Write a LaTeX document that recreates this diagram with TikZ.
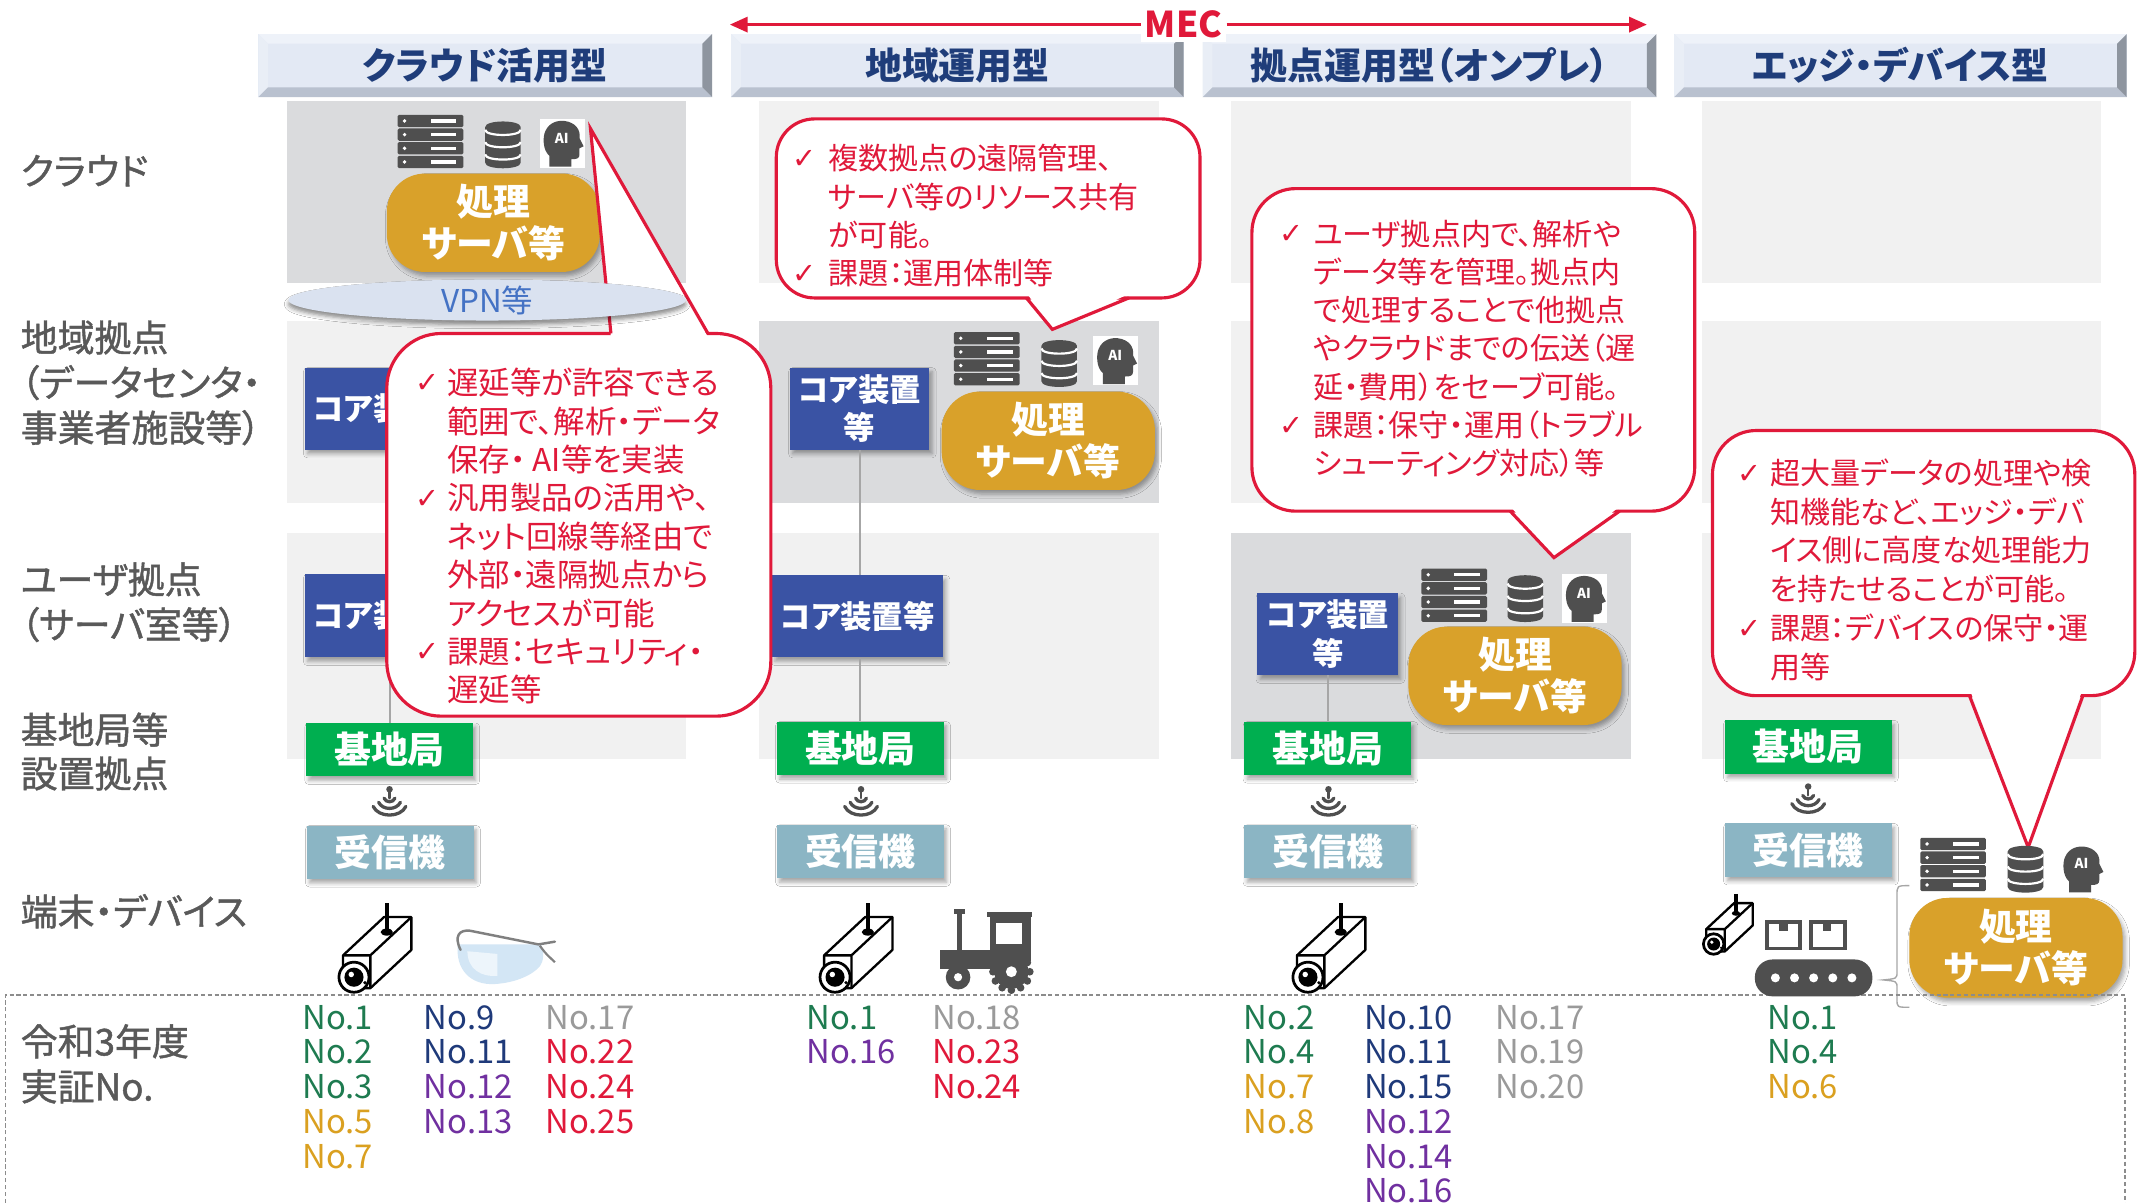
\documentclass[tikz,border=0pt]{standalone}
\usepackage{fontspec}
\setmainfont{Noto Sans CJK JP}[RawFeature=+palt]
\newfontfamily\lblf{Noto Sans CJK JP}[RawFeature=+palt, FakeBold=1.2]
\newfontfamily\symf{DejaVu Sans}
\usetikzlibrary{arrows.meta,shapes.geometric,shadows.blur}

\definecolor{hdrface}{HTML}{E3E9F4}
\definecolor{hdrtop}{HTML}{EEF2F9}
\definecolor{hdrleft}{HTML}{E9EEF6}
\definecolor{hdrbot}{HTML}{B9C1CF}
\definecolor{hdrright}{HTML}{8E959F}
\definecolor{hdrtxt}{HTML}{1F3D7A}
\definecolor{bgdark}{HTML}{DADBDD}
\definecolor{bglight}{HTML}{F1F1F1}
\definecolor{coreblue}{HTML}{3A53A4}
\definecolor{bsgreen}{HTML}{00AF50}
\definecolor{rcvblue}{HTML}{8BB5C4}
\definecolor{gold}{HTML}{D9A12A}
\definecolor{cred}{HTML}{E0193A}
\definecolor{lblgray}{HTML}{595959}
\definecolor{icong}{HTML}{4F4F4F}
\definecolor{conngray}{HTML}{A6A6A6}
\definecolor{ngreen}{HTML}{1E7B50}
\definecolor{nblue}{HTML}{1F3A7A}
\definecolor{npurple}{HTML}{7030A0}
\definecolor{ngold}{HTML}{DAA020}
\definecolor{ngray}{HTML}{9A9A9A}
\definecolor{vpnfill}{HTML}{DAE2F0}
\definecolor{vpntxt}{HTML}{4472C4}
\definecolor{dashgray}{HTML}{8C8C8C}
\definecolor{lensblue}{HTML}{D3E6F5}

% bevelled column header
\newcommand\hdrbox[4]{%
  \fill[hdrface] (#1,25) rectangle (#2,71);
  \fill[hdrtop] (#1,25) -- (#2,25) -- (#2-7,32) -- (#1+7,32) -- cycle;
  \fill[hdrleft] (#1,25) -- (#1+7,32) -- (#1+7,64) -- (#1,71) -- cycle;
  \fill[hdrbot] (#1,71) -- (#1+7,64) -- (#2-7,64) -- (#2,71) -- cycle;
  \fill[hdrright] (#2,25) -- (#2,71) -- (#2-7,64) -- (#2-7,32) -- cycle;
  \node[hdrtext] (#3) at ({(#1+#2)/2},48) {#4};}

% rack server icon
\newcommand\srvicon[2]{%
  \begin{scope}[shift={(#1,#2)}]
    \foreach \k in {0,1,2,3}{%
      \fill[icong, rounded corners=1pt] (0,\k*10) rectangle (48,\k*10+9);
      \fill[white] (5,\k*10+4.5) circle [radius=1.4pt];
      \fill[white] (24,\k*10+3.3) rectangle (43,\k*10+5.7);}
  \end{scope}}

% database icon
\newcommand\dbicon[2]{%
  \begin{scope}[shift={(#1,#2)}]
    \fill[icong] (0,4) -- (0,30) .. controls (0,35.5) and (26,35.5) .. (26,30)
      -- (26,4) .. controls (26,-1.5) and (0,-1.5) .. (0,4) -- cycle;
    \foreach \s in {6,15,24}
      \draw[white, line width=1.6pt] (0,\s) .. controls (0,\s+5) and (26,\s+5) .. (26,\s);
  \end{scope}}

% AI head icon
\newcommand\aiicon[3]{%
  \begin{scope}[shift={(#1,#2)}]
    \fill[white] (-1,-1) rectangle (32,35);
    \fill[icong] (6,34) -- (6,26) .. controls (1,22) and (1,12) .. (3,8)
      .. controls (6,1) and (13,0) .. (17,0.5) .. controls (25,1.5) and (29,7) .. (28,13)
      -- (31,19) -- (28,20.5) -- (28,25) .. controls (28,28) and (26,28.5) .. (22,28.5)
      -- (22,34) -- cycle;
    \node[font=\bfseries\fontsize{10}{10}\selectfont, text=white, inner sep=0pt] (#3) at (15,13) {AI};
  \end{scope}}

% radio waves between base station and receiver
\newcommand\wifi[2]{%
  \begin{scope}[shift={(#1,#2)}, color=icong, line width=2.4pt, line cap=round]
    \fill (0,2.5) circle [radius=2.4pt];
    \draw[line width=1.6pt] (0,4) -- (0,9);
    \draw (-4,9) .. controls (-2.5,12.5) and (2.5,12.5) .. (4,9);
    \draw (-8,12) .. controls (-5,18) and (5,18) .. (8,12);
    \draw (-12,15) .. controls (-8,23.5) and (8,23.5) .. (12,15);
  \end{scope}}

% box camera with antenna
\newcommand\camicon[3]{%
  \begin{scope}[shift={(#1,#2)}, scale=#3, line join=round]
    \filldraw[fill=white, draw=black, line width=1.7pt] (5,38) -- (35,10) -- (55,10) -- (55,34) -- (25,62) -- (5,62) -- cycle;
    \draw[line width=1.7pt] (5,38) -- (25,38) -- (55,10) (25,38) -- (25,62);
    \draw[line width=3.2pt] (37,0) -- (37,20);
    \fill (37,21) ellipse [x radius=4.5pt, y radius=2.6pt];
    \filldraw[fill=white, draw=black, line width=2pt] (13,54) circle [radius=11pt];
    \fill (13,54) circle [radius=7pt];
    \fill[white] (11,52) circle [radius=2pt];
    \fill (21,58) circle [radius=1.3pt];
  \end{scope}}

% smart glasses
\newcommand\glasses[2]{%
  \begin{scope}[shift={(#1,#2)}]
    \fill[lensblue] (3,12) .. controls (1,30) and (12,42) .. (30,41) .. controls (46,40) and (58,34) .. (63,28)
      .. controls (66,24) and (66,18) .. (64,12) -- cycle;
    \fill[lensblue!40!white] (10,17) .. controls (10,30) and (20,36) .. (32,35) -- (32,19) -- cycle;
    \draw[gray, line width=1.8pt, line cap=round] (5,16) .. controls (0,6) and (4,1) .. (12,2) -- (62,12) -- (74,10);
    \draw[gray, line width=1.6pt] (63,13) .. controls (68,20) and (71,22) .. (74,25);
  \end{scope}}

% tractor
\newcommand\tractor[2]{%
  \begin{scope}[shift={(#1,#2)}]
    \fill[icong] (12,4) rectangle (16,30);
    \fill[icong] (10,0) rectangle (18,4);
    \fill[icong] (0,30) rectangle (50,44);
    \fill[icong] (36,4) rectangle (66,38);
    \fill[white] (41,10) rectangle (60,26);
    \fill[icong] (34,2) rectangle (67,6);
    \fill[icong] (52,46) circle [radius=12.5pt];
    \foreach \a in {0,30,...,330} \fill[icong] (52,46) ++(\a:13.5pt) circle [radius=2.8pt];
    \fill[white] (52,46) circle [radius=4pt];
    \fill[icong] (13,50) circle [radius=9pt];
    \fill[white] (13,50) circle [radius=3pt];
  \end{scope}}

% conveyor belt with parcels
\newcommand\conveyor[2]{%
  \begin{scope}[shift={(#1,#2)}]
    \draw[icong, line width=2.8pt] (9,1.4) rectangle (33,21);
    \draw[icong, line width=2.8pt] (41,1.4) rectangle (66,21);
    \fill[icong] (18,1) rectangle (24,8);
    \fill[icong] (50,1) rectangle (56,8);
    \fill[icong, rounded corners=13pt] (0,29) rectangle (86,56);
    \foreach \u in {15,29,43,57,71} \fill[white] (\u,42.5) circle [radius=3.3pt];
  \end{scope}}

% lines of callout text
\newcommand\calltext[6]{%
  \foreach \lt [count=\li from 0] in {#5}{%
    \node[ctext, font=\fontsize{#6}{#6}\selectfont] (#1\li) at (#2, {#3+#4*\li+0.38*#6}) {\lt};}}
\newcommand\chk[3]{\node[chkm] (#1) at (#2, {#3+7.5}) {✓};}

% column of trial numbers
\newcommand\numcol[3]{%
  \foreach \nt/\nc [count=\ni from 0] in {#3}{%
    \node[numtxt, text=\nc] (#1\ni) at (#2, {753+25.4*\ni}) {\nt};}}

\begin{document}
\begin{tikzpicture}[x=1pt, y=-1pt,
  hdrtext/.style={font=\bfseries\fontsize{27}{27}\selectfont, text=hdrtxt, inner sep=0pt},
  lbl/.style={font=\lblf\fontsize{27}{27}\selectfont, text=lblgray, anchor=base west, inner sep=0pt},
  shadowed/.style={blur shadow={shadow xshift=2pt, shadow yshift=-3pt, shadow blur radius=3pt, shadow opacity=35}},
  corebox/.style={fill=coreblue, text=white, font=\bfseries\fontsize{23}{28}\selectfont, align=center, inner sep=0pt, shadowed},
  bsbox/.style={fill=bsgreen, text=white, font=\bfseries\fontsize{27}{27}\selectfont, minimum width=122pt, minimum height=39pt, inner sep=0pt, shadowed},
  rxbox/.style={fill=rcvblue, text=white, font=\bfseries\fontsize{27}{27}\selectfont, minimum width=122pt, minimum height=39pt, inner sep=0pt, shadowed},
  srvbox/.style={fill=gold, rounded corners=28pt, text=white, font=\bfseries\fontsize{27}{31}\selectfont, align=center, minimum width=156pt, minimum height=72pt, inner sep=0pt, shadowed},
  conn/.style={draw=conngray, line width=1.3pt},
  cbord/.style={draw=cred, line width=2.3pt},
  ctext/.style={text=cred, anchor=base west, inner sep=0pt},
  chkm/.style={font=\symf\fontsize{21}{21}\selectfont, text=cred, anchor=base west, inner sep=0pt},
  numtxt/.style={font=\fontsize{24}{24}\selectfont, anchor=base west, inner sep=0pt}]

\useasboundingbox (0,0) rectangle (1568,880);
\fill[white] (0,0) rectangle (1568,880);

% ---- background blocks per column and tier
\fill[bgdark]  (210,74) rectangle (502,207);
\fill[bglight] (210,235) rectangle (502,368);
\fill[bglight] (210,390) rectangle (502,555);
\fill[bglight] (555,74) rectangle (848,207);
\fill[bgdark]  (555,235) rectangle (848,368);
\fill[bglight] (555,390) rectangle (848,555);
\fill[bglight] (901,74) rectangle (1193,207);
\fill[bglight] (901,235) rectangle (1193,368);
\fill[bgdark]  (901,390) rectangle (1193,555);
\fill[bglight] (1245,74) rectangle (1537,207);
\fill[bglight] (1245,235) rectangle (1537,368);
\fill[bglight] (1245,390) rectangle (1537,555);

% ---- column headers
\hdrbox{189}{521}{h1}{クラウド活用型}
\hdrbox{535}{866}{h2}{地域運用型}
\hdrbox{880}{1212}{h3}{拠点運用型（オンプレ）}
\hdrbox{1225}{1556}{h4}{エッジ・デバイス型}

% ---- MEC span
\node[font=\bfseries\fontsize{26}{26}\selectfont, text=cred, fill=white, inner sep=3pt] (mec) at (866,18) {MEC};
\coordinate (mecl) at (534,18);
\coordinate (mecr) at (1205,18);
\draw[cred, line width=2.2pt, -{Triangle[length=13pt,width=11pt]}] (mec.west) -- (mecl);
\draw[cred, line width=2.2pt, -{Triangle[length=13pt,width=11pt]}] (mec.east) -- (mecr);

% ---- row labels
\foreach \lt/\ly/\ln in {クラウド/125/lc, 地域拠点/247/lr1, （データセンタ・/280/lr2, 事業者施設等）/313/lr3,
  ユーザ拠点/424/lu1, （サーバ室等）/457/lu2, 基地局等/534/lb1, 設置拠点/566/lb2,
  端末・デバイス/667/ld, 令和3年度/762/ln1, 実証No./795/ln2}
  \node[lbl] (\ln) at (15,{\ly+10.2}) {\lt};

% ---- column 1: cloud
\srvicon{291}{84}
\dbicon{355}{89}
\aiicon{396}{88}{ai1}
\node[srvbox] (srv1) at (361,163) {処理\\サーバ等};
\node[corebox, minimum width=125pt, minimum height=60pt] (core1r) at (285.5,299) {コア装置等};
\node[corebox, minimum width=125pt, minimum height=61pt] (core1u) at (285.5,450.5) {コア装置等};
\node[bsbox] (bs1) at (285,548.5) {基地局};
\node[rxbox] (rx1) at (285.5,623.5) {受信機};
\draw[conn] (core1r.south) -- (core1u.north);
\draw[conn] (core1u.south) -- (core1u.south |- bs1.north);
\wifi{285}{575}

% ---- column 2: regional
\srvicon{698}{243}
\dbicon{762}{249}
\aiicon{801}{247}{ai2}
\node[corebox, minimum width=102pt, minimum height=60pt] (core2r) at (629,299) {コア装置\\等};
\node[srvbox] (srv2) at (767,322.5) {処理\\サーバ等};
\node[corebox, minimum width=125pt, minimum height=60pt] (core2u) at (627.5,451) {コア装置等};
\node[bsbox] (bs2) at (629.5,547.5) {基地局};
\node[rxbox] (rx2) at (629.5,623) {受信機};
\draw[conn] (core2r.south) -- (core2r.south |- core2u.north);
\draw[conn] (core2r.south |- core2u.south) -- (core2r.south |- bs2.north);
\wifi{630}{575}

% ---- column 3: on-premises
\srvicon{1040}{416}
\dbicon{1103}{421}
\aiicon{1144}{421}{ai3}
\node[corebox, minimum width=103pt, minimum height=60pt] (core3) at (971.5,464) {コア装置\\等};
\node[srvbox] (srv3) at (1108.5,494.5) {処理\\サーバ等};
\node[bsbox] (bs3) at (971.5,547.5) {基地局};
\node[rxbox] (rx3) at (971.5,623) {受信機};
\draw[conn] (core3.south) -- (core3.south |- bs3.north);
\wifi{972}{575}

% ---- column 4: edge / device
\node[bsbox] (bs4) at (1323,546.5) {基地局};
\node[rxbox] (rx4) at (1323,622) {受信機};
\wifi{1323}{573}

% ---- callouts
% column 1, pointing up to the cloud AI
\draw[cbord, fill=white, rounded corners=40pt] (283,244) rectangle (564,524);
\fill[white] (447,246.5) -- (432,94) -- (518,246.5) -- cycle;
\draw[cbord, line join=miter] (447,244) -- (432,94) -- (518,244);
\calltext{ct1}{327}{280}{28.1}{遅延等が許容できる,範囲で、解析・データ,保存・ AI等を実装,汎用製品の活用や、,ネット回線等経由で,外部・遠隔拠点から,アクセスが可能,課題：セキュリティ・,遅延等}{23}
\chk{ck11}{304}{280}
\chk{ck12}{304}{364.3}
\chk{ck13}{304}{476.7}

% column 2
\draw[cbord, fill=white, rounded corners=28pt] (568,87) rectangle (878,218);
\fill[white] (752,215.5) -- (770,241) -- (825,215.5) -- cycle;
\draw[cbord, line join=miter] (751,218) -- (770,241) -- (826,218);
\calltext{ct2}{606}{116}{28}{複数拠点の遠隔管理、,サーバ等のリソース共有,が可能。,課題：運用体制等}{22}
\chk{ck21}{580}{116}
\chk{ck22}{580}{200}

% column 3
\draw[cbord, fill=white, rounded corners=32pt] (916,138) rectangle (1240,374);
\fill[white] (1106,371.5) -- (1137,408) -- (1184,371.5) -- cycle;
\draw[cbord, line join=miter] (1105,374) -- (1137,408) -- (1185,374);
\calltext{ct3}{961}{171}{28}{ユーザ拠点内で、解析や,データ等を管理。拠点内,で処理することで他拠点,やクラウドまでの伝送（遅,延・費用）をセーブ可能。,課題：保守・運用（トラブル,シューティング対応）等}{22}
\chk{ck31}{936}{171}
\chk{ck32}{936}{311}

% column 4
\draw[cbord, fill=white, rounded corners=32pt] (1253,315) rectangle (1562,509);
\fill[white] (1442,506.5) -- (1484,620) -- (1523,506.5) -- cycle;
\draw[cbord, line join=miter] (1441,509) -- (1484,620) -- (1524,509);
\calltext{ct4}{1295}{346}{28.4}{超大量データの処理や検,知機能など、エッジ・デバ,イス側に高度な処理能力,を持たせることが可能。,課題：デバイスの保守・運,用等}{22}
\chk{ck41}{1271}{346}
\chk{ck42}{1271}{459.6}

% ---- VPN link under the cloud tier
\node[ellipse, fill=vpnfill, minimum width=291pt, minimum height=22pt, inner sep=0pt, text=vpntxt,
  font=\fontsize{23}{23}\selectfont, blur shadow={shadow xshift=0pt, shadow yshift=-3pt, shadow blur radius=3pt, shadow opacity=45}]
  (vpn) at (356.5,219.5) {VPN等};

% ---- edge processing in column 4
\srvicon{1405}{613}
\dbicon{1469}{619}
\aiicon{1508}{619}{ai4}
\node[srvbox, minimum height=73pt] (srv4) at (1475,693.5) {処理\\サーバ等};
\draw[conngray, line width=1pt] (1397,648) .. controls (1388,648) .. (1388,655) -- (1388,711)
  .. controls (1388,716) .. (1378,717) .. controls (1388,718) .. (1388,723) -- (1388,731)
  .. controls (1388,737) .. (1397,737);

% ---- trial number frame
\draw[dashgray, line width=1.2pt, dash pattern=on 3pt off 2pt] (4,885) -- (4,728) -- (1555,728) -- (1555,885);

% ---- devices
\camicon{246}{661}{1}
\glasses{332}{679}
\camicon{598}{661}{1}
\tractor{688}{665}
\camicon{944}{661}{1}
\camicon{1245}{654}{0.68}
\conveyor{1284}{673}

% ---- trial numbers
\numcol{n1a}{221}{No.1/ngreen, No.2/ngreen, No.3/ngreen, No.5/ngold, No.7/ngold}
\numcol{n1b}{310}{No.9/nblue, No.11/nblue, No.12/npurple, No.13/npurple}
\numcol{n1c}{399}{No.17/ngray, No.22/cred, No.24/cred, No.25/cred}
\numcol{n2a}{590}{No.1/ngreen, No.16/npurple}
\numcol{n2b}{682}{No.18/ngray, No.23/cred, No.24/cred}
\numcol{n3a}{910}{No.2/ngreen, No.4/ngreen, No.7/ngold, No.8/ngold}
\numcol{n3b}{998}{No.10/nblue, No.11/nblue, No.15/nblue, No.12/npurple, No.14/npurple, No.16/npurple}
\numcol{n3c}{1094}{No.17/ngray, No.19/ngray, No.20/ngray}
\numcol{n4a}{1293}{No.1/ngreen, No.4/ngreen, No.6/ngold}

\end{tikzpicture}
\end{document}
